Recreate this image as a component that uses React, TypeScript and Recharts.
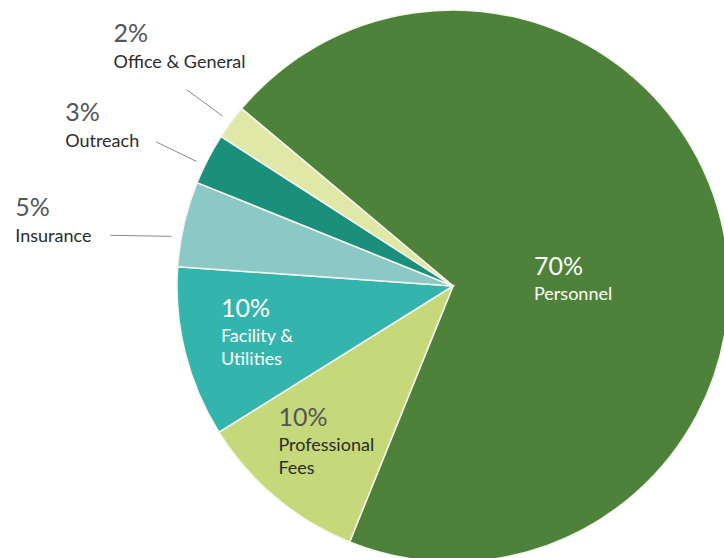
import React from 'react';
import { PieChart, Pie, Cell } from 'recharts';

const categories = ['Personnel', 'Professional Fees', 'Facility & Utilities', 'Insurance', 'Outreach', 'Office & General'];
const shares = [70, 10, 10, 5, 3, 2];
// how each category name is broken into lines
const nameLines = [['Personnel'], ['Professional', 'Fees'], ['Facility &', 'Utilities'], ['Insurance'], ['Outreach'], ['Office & General']];

const COLORS = ['#4e823a', '#c5d87a', '#33b5ae', '#8cc9c6', '#1a8f7c', '#e0e8a8'];

// label placement per slice: inside -> anchor at dist along mid angle; outside -> leader line
type LabelLayout = {
  inside: boolean;
  dist: number;
  dx: number;
  dy: number;
  light?: boolean;
  lineLen?: number;
  horizontal?: boolean;
  nameDy?: number;
  angleShift?: number;
};
const LAYOUT: LabelLayout[] = [
  { inside: true, dist: 100, dx: -16, dy: 13, light: true },
  { inside: true, dist: 200, dx: -46, dy: -13 },
  { inside: true, dist: 200, dx: -38, dy: -17, light: true },
  { inside: false, dist: 10, lineLen: 61, horizontal: true, angleShift: 3, dx: -95, dy: -19, nameDy: 26 },
  { inside: false, dist: 9, lineLen: 45, angleShift: 1.5, dx: -91, dy: -21, nameDy: 26 },
  { inside: false, dist: 10, lineLen: 45, dx: -73, dy: -48, nameDy: 26 },
];

const data = categories.map((name, i) => ({ name, value: shares[i] }));

const FONT = 'Lato, "Open Sans", sans-serif';
const RADIAN = Math.PI / 180;

const polar = (cx: number, cy: number, r: number, angle: number) => ({
  x: cx + r * Math.cos(-angle * RADIAN),
  y: cy + r * Math.sin(-angle * RADIAN),
});

const renderLabel = (props: any) => {
  const { cx, cy, midAngle, outerRadius, index } = props;
  const lay = LAYOUT[index];
  const pctColor = lay.light ? '#ffffff' : '#555555';
  const nameColor = lay.light ? '#ffffff' : '#2b2b2b';
  const lines = nameLines[index];
  const angle = midAngle + (lay.angleShift || 0);
  let ax: number;
  let ay: number;
  let line = null;
  if (lay.inside) {
    const p = polar(cx, cy, lay.dist, angle);
    ax = p.x;
    ay = p.y;
  } else {
    const s = polar(cx, cy, outerRadius + lay.dist, angle);
    const e = lay.horizontal
      ? { x: s.x - (lay.lineLen || 0), y: s.y - 1 }
      : polar(cx, cy, outerRadius + lay.dist + (lay.lineLen || 0), angle);
    line = <line x1={s.x} y1={s.y} x2={e.x} y2={e.y} stroke="#8a8a8a" strokeWidth={1} />;
    ax = e.x;
    ay = e.y;
  }
  const tx = ax + lay.dx;
  const ty = ay + lay.dy;
  const nameDy = lay.nameDy || 25;
  return (
    <g key={`lbl-${index}`}>
      {line}
      <text x={tx} y={ty} fill={pctColor} fontSize={25} fontFamily={FONT} textAnchor="start">
        {`${shares[index]}%`}
      </text>
      {lines.map((l, j) => (
        <text
          key={j}
          x={tx}
          y={ty + nameDy + j * 23}
          fill={nameColor}
          fontSize={18}
          fontFamily={FONT}
          textAnchor="start"
        >
          {l}
        </text>
      ))}
    </g>
  );
};

export default function App() {
  return (
    <div style={{ position: 'absolute', left: 0, top: 0, width: 724, height: 558, background: '#ffffff', overflow: 'hidden' }}>
      <PieChart width={724} height={558} margin={{ top: 0, right: 0, bottom: 0, left: 0 }}>
        <Pie
          data={data}
          dataKey="value"
          nameKey="name"
          cx={453}
          cy={286}
          outerRadius={276}
          startAngle={140}
          endAngle={-220}
          stroke="#f4f6ee"
          strokeWidth={1.5}
          label={renderLabel}
          labelLine={false}
          isAnimationActive={false}
        >
          {data.map((entry, index) => (
            <Cell key={`cell-${index}`} fill={COLORS[index]} />
          ))}
        </Pie>
      </PieChart>
    </div>
  );
}
